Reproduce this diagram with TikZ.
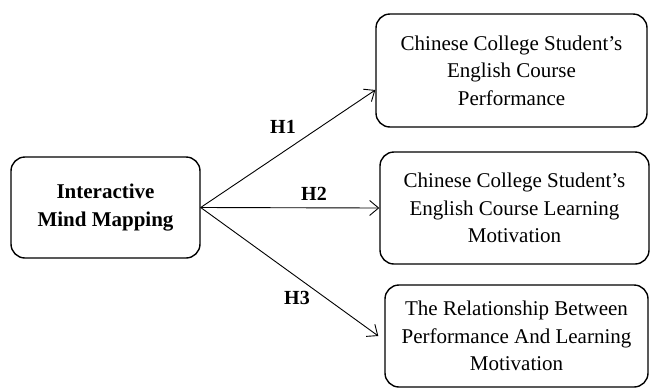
\documentclass[tikz,border=0pt]{standalone}
\usepackage{fontspec}
\setmainfont{Liberation Serif}
\usetikzlibrary{arrows.meta}

\tikzset{
  box/.style={draw, line width=1.4pt, rounded corners=14pt, align=center, inner sep=0pt,
    font=\fontsize{21}{27.5}\selectfont},
  hyp/.style={font=\bfseries\fontsize{20}{22}\selectfont},
  link/.style={line width=0.9pt, -{Straight Barb[length=9pt,width=15pt,line width=0.9pt]}}
}

\begin{document}
\begin{tikzpicture}[x=1pt,y=-1pt]
\useasboundingbox (0,0) rectangle (651,389);

\node[box, minimum width=189pt, minimum height=101pt, font=\bfseries\fontsize{21}{27.5}\selectfont]
  (mind) at (105.5,207.5) {Interactive\\Mind Mapping};

\node[box, minimum width=271pt, minimum height=113pt] (perf) at (511.5,70.5)
  {Chinese College Student’s\\English Course\\Performance};
\node[box, minimum width=269pt, minimum height=112pt] (motiv) at (514.5,208)
  {Chinese College Student’s\\English Course Learning\\Motivation};
\node[box, minimum width=263pt, minimum height=102pt] (rel) at (516.5,336)
  {The Relationship Between\\Performance And Learning\\Motivation};

\node[hyp] (h1) at (283,127) {H1};
\node[hyp] (h2) at (314,194) {H2};
\node[hyp] (h3) at (297,298) {H3};

\draw[link] (mind.east) -- ([yshift=-19.5pt]perf.west);
\draw[link] (mind.east) -- (motiv.west);
\draw[link] (mind.east) -- ([xshift=-6pt]rel.west);

\end{tikzpicture}
\end{document}
